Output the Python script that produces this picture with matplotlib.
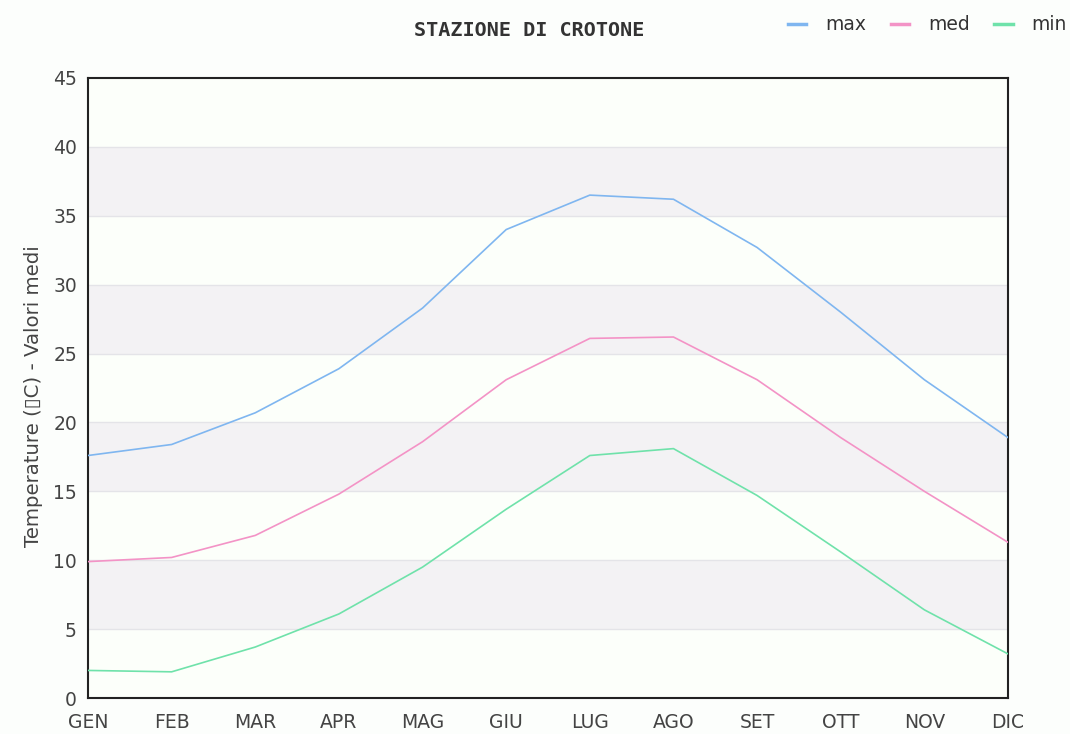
import matplotlib
matplotlib.use("Agg")
import matplotlib.pyplot as plt
from matplotlib.lines import Line2D

mesi = ["GEN", "FEB", "MAR", "APR", "MAG", "GIU", "LUG", "AGO", "SET", "OTT", "NOV", "DIC"]
t_max = [17.6, 18.4, 20.7, 23.9, 28.3, 34.0, 36.5, 36.2, 32.7, 28.0, 23.1, 18.9]
t_med = [9.9, 10.2, 11.8, 14.8, 18.6, 23.1, 26.1, 26.2, 23.1, 18.9, 15.0, 11.3]
t_min = [2.0, 1.9, 3.7, 6.1, 9.5, 13.7, 17.6, 18.1, 14.7, 10.6, 6.4, 3.2]

c_max = "#7fb6f0"
c_med = "#f393c6"
c_min = "#6fe2aa"

fig = plt.figure(figsize=(10.7, 7.34), dpi=100, facecolor="#fcfefc")
ax = fig.add_axes([88 / 1070, 36 / 734, 920 / 1070, 620 / 734])
ax.set_facecolor("#fcfffa")

# bande alternate
for lo in range(5, 45, 10):
    ax.axhspan(lo, lo + 5, color="#f3f2f4", zorder=0, lw=0)
for y in range(5, 45, 5):
    ax.axhline(y, color="#e4e4e8", lw=1, zorder=1)

x = list(range(len(mesi)))
ax.plot(x, t_max, color=c_max, lw=1.2, zorder=3)
ax.plot(x, t_med, color=c_med, lw=1.2, zorder=3)
ax.plot(x, t_min, color=c_min, lw=1.2, zorder=3)

ax.set_xlim(0, 11)
ax.set_ylim(0, 45)
ax.set_yticks(range(0, 50, 5))
ax.set_xticks(x)
ax.set_xticklabels(mesi)
ax.tick_params(length=0, labelsize=13.5, colors="#444444", pad=8)
ax.tick_params(axis="x", pad=11)
for s in ax.spines.values():
    s.set_color("#222222")
    s.set_linewidth(1.5)

ax.set_ylabel("Temperature (\u25afC) - Valori medi", fontsize=14.2, color="#444444")
ax.yaxis.set_label_coords(-0.049, 0.487)

fig.text(529 / 1070, 1 - 30 / 734, "STAZIONE DI CROTONE", ha="center", va="center",
         fontsize=14.5, fontweight="bold", family="DejaVu Sans Mono", color="#333333")

handles = [Line2D([], [], color=c_max, lw=2.5), Line2D([], [], color=c_med, lw=2.5),
           Line2D([], [], color=c_min, lw=2.5)]
fig.legend(handles, ["max", "med", "min"], loc="center right", bbox_to_anchor=(1.013, 1 - 25 / 734),
           ncol=3, frameon=False, fontsize=13.5, handlelength=1.0, handletextpad=1.0,
           columnspacing=1.3, labelcolor="#333333")

fig.savefig("out.png", dpi=100, facecolor=fig.get_facecolor())
